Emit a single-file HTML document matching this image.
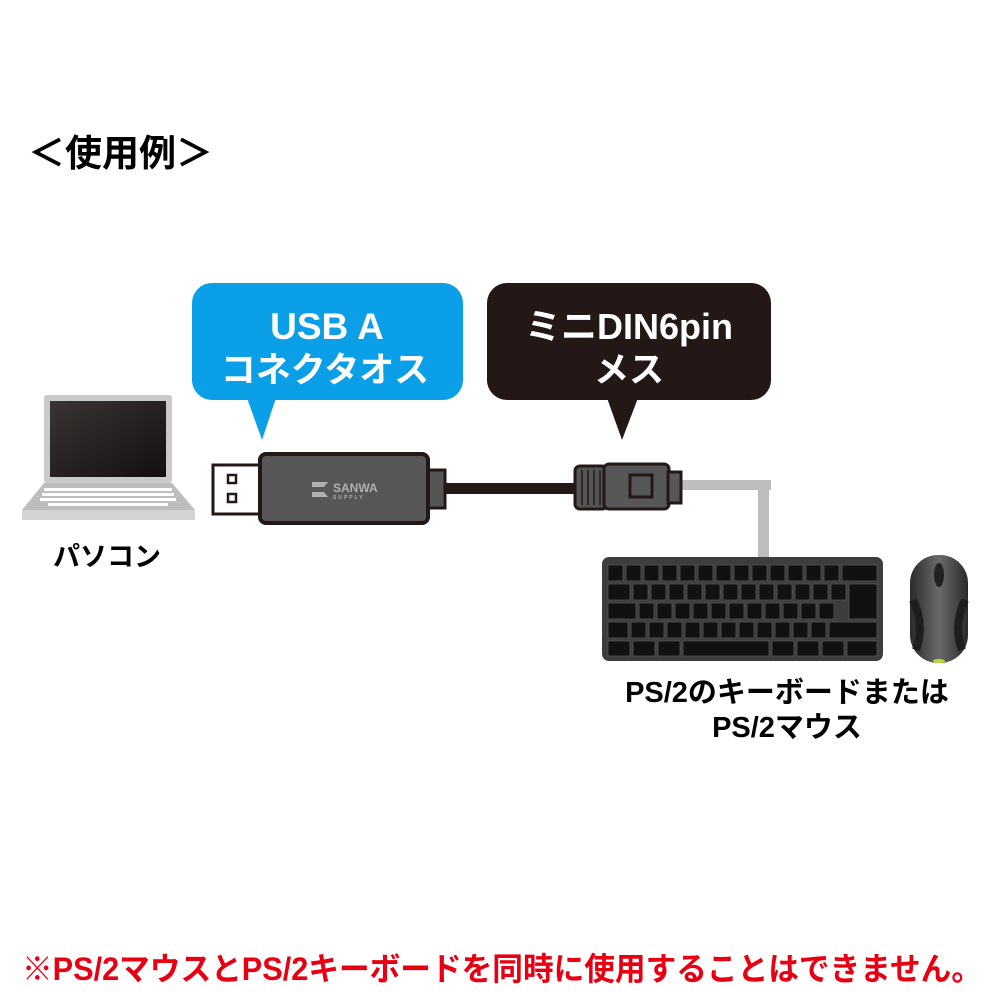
<!DOCTYPE html>
<html><head><meta charset="utf-8"><style>
html,body{margin:0;padding:0;background:#fff;width:1000px;height:1000px;overflow:hidden}
svg{display:block}
text{font-family:"Liberation Sans","Noto Sans CJK JP",sans-serif;font-weight:bold}
</style></head><body>
<svg width="1000" height="1000" viewBox="0 0 1000 1000" xmlns="http://www.w3.org/2000/svg">
<defs>
<linearGradient id="scr" x1="0" y1="0" x2="1" y2="1"><stop offset="0" stop-color="#3a3433"/><stop offset="1" stop-color="#140f0e"/></linearGradient>
<linearGradient id="mouse" x1="0" y1="0" x2="1" y2="0"><stop offset="0" stop-color="#2a2a2a"/><stop offset=".5" stop-color="#6a6a6a"/><stop offset="1" stop-color="#2a2a2a"/></linearGradient>
</defs>
<text x="28" y="166" font-size="37">＜使用例＞</text>

<!-- blue bubble -->
<rect x="192" y="283" width="271" height="117" rx="20" fill="#0a9fe6"/>
<polygon points="247,398 276,398 262,440" fill="#0a9fe6"/>
<text x="327" y="339" font-size="37" fill="#fff" text-anchor="middle">USB A</text>
<text x="325" y="382" font-size="35" fill="#fff" text-anchor="middle">コネクタオス</text>

<!-- black bubble -->
<rect x="487" y="283" width="284" height="117" rx="20" fill="#231815"/>
<polygon points="607,398 638,398 622,440" fill="#231815"/>
<text x="629" y="339" font-size="36" fill="#fff" text-anchor="middle">ミニDIN6pin</text>
<text x="629" y="382" font-size="35" fill="#fff" text-anchor="middle">メス</text>

<!-- laptop -->
<rect x="44" y="395" width="128" height="88" rx="3" fill="#c9c9c9"/>
<rect x="50" y="401" width="116" height="76" fill="url(#scr)"/>
<polygon points="44,483 172,483 195,510 22,510" fill="#bdbdbd"/>
<rect x="22" y="510" width="173" height="10" fill="#d4d4d4"/>
<g fill="#fff">
<rect x="44" y="488" width="128" height="3"/>
<rect x="42" y="493" width="132" height="3"/>
<rect x="40" y="498" width="136" height="3"/>
<rect x="48" y="503" width="120" height="3"/>
</g>
<text x="53" y="566" font-size="27">パソコン</text>

<!-- usb -->
<rect x="213" y="465" width="50" height="49" fill="#fff" stroke="#231815" stroke-width="3"/>
<rect x="228" y="475" width="8" height="8" fill="#fff" stroke="#231815" stroke-width="2.5"/>
<rect x="228" y="494" width="8" height="8" fill="#fff" stroke="#231815" stroke-width="2.5"/>
<rect x="428" y="470" width="17" height="38" fill="#555" stroke="#231815" stroke-width="3"/>
<rect x="260" y="454" width="168" height="69" rx="6" fill="#575757" stroke="#231815" stroke-width="4"/>
<text x="333" y="492" font-size="12" fill="#b0b0b0">SANWA</text>
<text x="333" y="499" font-size="5" fill="#b0b0b0" letter-spacing="2">SUPPLY</text>
<path d="M312 482 h16 l-4 5 h-12z M312 492 h12 l4 5 h-16z" fill="#b0b0b0"/>
<rect x="445" y="483" width="132" height="11" fill="#231815"/>

<!-- DIN -->
<rect x="680" y="480" width="91" height="10" fill="#bdbdbd"/>
<rect x="758" y="480" width="11" height="80" fill="#bdbdbd"/>
<rect x="575" y="466" width="32" height="43" rx="5" fill="#555" stroke="#231815" stroke-width="3"/>
<g stroke="#231815" stroke-width="1.5"><line x1="582" y1="470" x2="582" y2="505"/><line x1="588" y1="470" x2="588" y2="505"/><line x1="594" y1="470" x2="594" y2="505"/><line x1="600" y1="470" x2="600" y2="505"/></g>
<rect x="604" y="464" width="65" height="45" rx="5" fill="#575757" stroke="#231815" stroke-width="3"/>
<rect x="630" y="475" width="22" height="22" fill="none" stroke="#231815" stroke-width="3"/>
<rect x="668" y="472" width="13" height="31" fill="#575757" stroke="#231815" stroke-width="3"/>

<!-- keyboard -->
<rect x="602" y="557" width="281" height="104" rx="7" fill="#3d3d3d"/>
<g fill="#111" stroke="#555" stroke-width="0.8">
<rect x="608" y="565" width="15" height="16"/><rect x="626" y="565" width="15" height="16"/><rect x="644" y="565" width="15" height="16"/><rect x="662" y="565" width="15" height="16"/><rect x="680" y="565" width="15" height="16"/><rect x="698" y="565" width="15" height="16"/><rect x="716" y="565" width="15" height="16"/><rect x="734" y="565" width="15" height="16"/><rect x="752" y="565" width="15" height="16"/><rect x="770" y="565" width="15" height="16"/><rect x="788" y="565" width="15" height="16"/><rect x="806" y="565" width="15" height="16"/><rect x="824" y="565" width="15" height="16"/><rect x="842" y="565" width="35" height="16"/>
<rect x="608" y="584" width="22" height="16"/><rect x="633" y="584" width="15" height="16"/><rect x="651" y="584" width="15" height="16"/><rect x="669" y="584" width="15" height="16"/><rect x="687" y="584" width="15" height="16"/><rect x="705" y="584" width="15" height="16"/><rect x="723" y="584" width="15" height="16"/><rect x="741" y="584" width="15" height="16"/><rect x="759" y="584" width="15" height="16"/><rect x="777" y="584" width="15" height="16"/><rect x="795" y="584" width="15" height="16"/><rect x="813" y="584" width="15" height="16"/><rect x="831" y="584" width="15" height="16"/><rect x="849" y="584" width="28" height="35"/>
<rect x="608" y="603" width="28" height="16"/><rect x="639" y="603" width="15" height="16"/><rect x="657" y="603" width="15" height="16"/><rect x="675" y="603" width="15" height="16"/><rect x="693" y="603" width="15" height="16"/><rect x="711" y="603" width="15" height="16"/><rect x="729" y="603" width="15" height="16"/><rect x="747" y="603" width="15" height="16"/><rect x="765" y="603" width="15" height="16"/><rect x="783" y="603" width="15" height="16"/><rect x="801" y="603" width="15" height="16"/><rect x="819" y="603" width="15" height="16"/>
<rect x="608" y="622" width="20" height="16"/><rect x="631" y="622" width="15" height="16"/><rect x="649" y="622" width="15" height="16"/><rect x="667" y="622" width="15" height="16"/><rect x="685" y="622" width="15" height="16"/><rect x="703" y="622" width="15" height="16"/><rect x="721" y="622" width="15" height="16"/><rect x="739" y="622" width="15" height="16"/><rect x="757" y="622" width="15" height="16"/><rect x="775" y="622" width="15" height="16"/><rect x="793" y="622" width="15" height="16"/><rect x="811" y="622" width="15" height="16"/><rect x="829" y="622" width="48" height="16"/>
<rect x="608" y="641" width="22" height="15"/><rect x="633" y="641" width="22" height="15"/><rect x="658" y="641" width="22" height="15"/><rect x="683" y="641" width="86" height="15"/><rect x="772" y="641" width="22" height="15"/><rect x="797" y="641" width="22" height="15"/><rect x="822" y="641" width="22" height="15"/><rect x="847" y="641" width="30" height="15"/>
</g>

<!-- mouse -->
<rect x="910" y="555" width="58" height="108" rx="28" fill="url(#mouse)"/>
<path d="M913 600 Q925 625 916 650 M965 600 Q953 625 962 650" stroke="#1e1e1e" stroke-width="8" fill="none"/>
<ellipse cx="939" cy="575" rx="5" ry="12" fill="#222"/>
<ellipse cx="939" cy="661" rx="6" ry="2" fill="#b5e02a"/>

<text x="787" y="702" font-size="29" text-anchor="middle">PS/2のキーボードまたは</text>
<text x="787" y="737" font-size="29" text-anchor="middle">PS/2マウス</text>

<text x="22" y="980" font-size="32" fill="#e60012" textLength="960" lengthAdjust="spacingAndGlyphs">※PS/2マウスとPS/2キーボードを同時に使用することはできません。</text>
</svg>
</body></html>
